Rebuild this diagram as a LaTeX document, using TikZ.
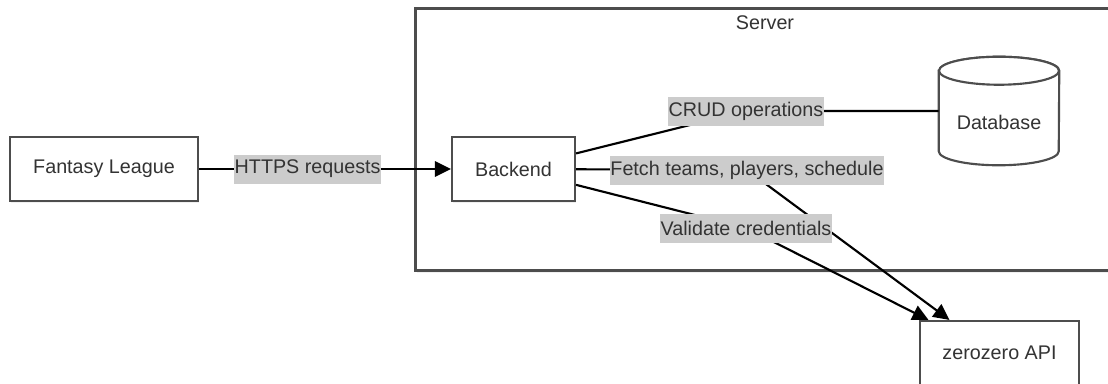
\documentclass[tikz,border=0pt]{standalone}
\usepackage{fontspec}
\setmainfont{Liberation Sans}
\usetikzlibrary{arrows.meta,shadows,calc}
\definecolor{ink}{HTML}{333333}
\definecolor{frame}{HTML}{4D4D4D}
\definecolor{tagbg}{HTML}{CCCCCC}
\begin{document}
\begin{tikzpicture}[x=0.75pt,y=-0.75pt,
  every node/.style={font=\fontsize{14.8pt}{17pt}\selectfont, text=ink},
  softshadow/.style={drop shadow={shadow xshift=1pt, shadow yshift=-1.5pt, opacity=0.12}},
  box/.style={draw=frame, line width=1.6pt, fill=white, minimum width=#1,
    minimum height=48pt, inner sep=0pt, softshadow},
  container/.style={draw=frame, line width=1.6pt, fill=white, softshadow},
  cyl/.style={draw=frame, line width=1.6pt, fill=white},
  tag/.style={fill=tagbg, inner xsep=0.6pt, inner ysep=0pt, minimum height=21.75pt},
  link/.style={line width=1.6pt, black},
  tip/.style={-{Triangle[length=12pt,width=11.5pt]}}]
\useasboundingbox (0,0) rectangle (1108,383);

% server container, running past the right edge
\path[container] (415.5,8.5) rectangle (1130,270.5);
\node (srvtitle) at (765,23) {Server};

% boxes
\node[box=141pt] (fl) at (104,169) {Fantasy League};
\node[box=92.25pt] (bk) at (513.5,169) {Backend};
\node[box=119.25pt] (zz) at (999.5,353) {zerozero API};

% database cylinder
\node[minimum width=90pt, minimum height=81pt, inner sep=0pt] (db) at (999,111) {};
\draw[cyl] ($(db.north west)+(0,14)$) -- ($(db.south west)+(0,-14)$)
  arc[start angle=180, end angle=360, x radius=45pt, y radius=10.5pt]
  -- ($(db.north east)+(0,14)$)
  arc[start angle=0, end angle=180, x radius=45pt, y radius=10.5pt] -- cycle;
\draw[cyl] ($(db.north)+(0,14)$) ellipse [x radius=45pt, y radius=10.5pt];
\node (dbtext) at ($(db.center)+(0,11)$) {Database};

% label anchor points
\coordinate (c1) at (746,111);
\coordinate (c2) at (747,170);
\coordinate (c3) at (746,228);

% connectors
\draw[link, tip] (fl) -- node[tag, pos=0.431] (lhttps) {HTTPS requests} (bk);
\draw[link] (bk) -- (c1) -- (db);
\draw[link] (bk) -- (c2);
\draw[link, tip] (c2) -- ($(zz.north)+(-50,0)$);
\draw[link] (bk) -- (c3);
\draw[link, tip] (c3) -- ($(zz.north)+(-71,0)$);

% connector labels
\node[tag] (lcrud) at (c1) {CRUD operations};
\node[tag] (lfetch) at (c2) {Fetch teams, players, schedule};
\node[tag] (lvalid) at (c3) {Validate credentials};
\end{tikzpicture}
\end{document}
